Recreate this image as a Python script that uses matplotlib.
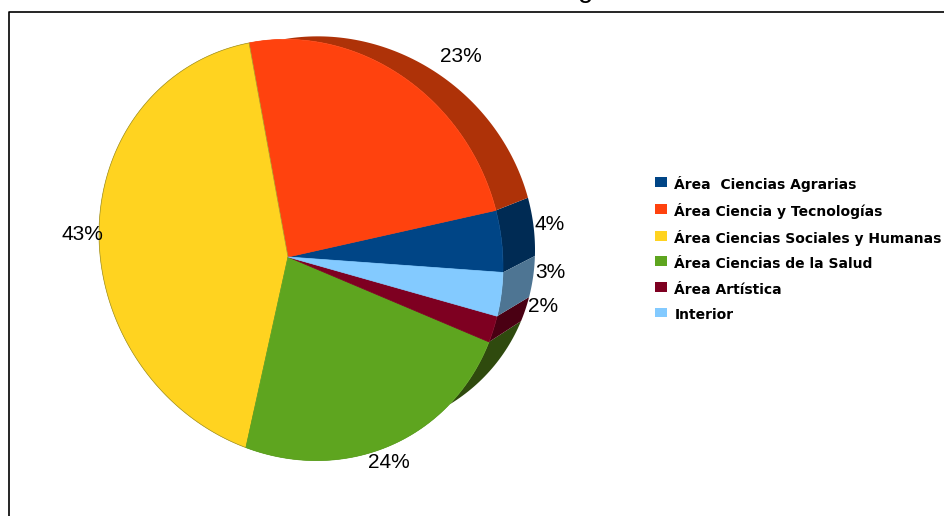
import numpy as np
import matplotlib
matplotlib.use("Agg")
import matplotlib.pyplot as plt
from matplotlib.patches import Patch
from matplotlib.legend_handler import HandlerPatch

categories = ["Área  Ciencias Agrarias", "Área Ciencia y Tecnologías",
              "Área Ciencias Sociales y Humanas", "Área Ciencias de la Salud",
              "Área Artística", "Interior"]
shares = [4.4, 23.4, 43.4, 23.6, 2.0, 3.2]
percent_labels = ["4%", "23%", "43%", "24%", "2%", "3%"]
top_colors = ["#004586", "#ff420e", "#ffd320", "#5ea51f", "#7e0021", "#83caff"]
side_colors = ["#002b54", "#ae3208", "#8f7a10", "#2f4a0e", "#4a0013", "#4e7593"]

# layout, in pixels of the 944x516 figure
label_xy = [(550, 225), (461, 57), (82, 234), (389, 462), (543, 306), (550, 273)]
front = dict(cx=301, cy=250, rx=202, ry=210)
back = dict(cx=334, cy=234, rx=201, ry=197)
apex = (288, 257)
shear = 0.08
warp_r, warp_a = 0.038, np.radians(214)
start = 0.75

fig = plt.figure(figsize=(9.44, 5.16), dpi=100)
ax = fig.add_axes([0, 0, 1, 1])
ax.set_xlim(0, 944)
ax.set_ylim(516, 0)
ax.axis("off")


def warp(theta):
    """Perspective shift of an angle on the pie rim."""
    z = np.exp(1j * theta)
    a = warp_r * np.exp(1j * warp_a)
    return np.angle((z + a) / (1 + np.conj(a) * z))


def rim(e, phi):
    dx = e["rx"] * np.cos(phi)
    return e["cx"] + dx, e["cy"] - e["ry"] * np.sin(phi) + shear * dx


edges = np.radians(start + 360 * np.concatenate([[0], np.cumsum(shares)]) / np.sum(shares))

# side walls first
for i in range(len(shares)):
    th = np.linspace(edges[i], edges[i + 1], 80)
    ph = np.unwrap(warp(th))
    x1, y1 = rim(front, ph)
    x2, y2 = rim(back, ph)
    ax.fill(np.r_[x1, x2[::-1]], np.r_[y1, y2[::-1]], color=side_colors[i], lw=0, zorder=2)

# top face
for i in range(len(shares)):
    th = np.linspace(edges[i], edges[i + 1], 120)
    ph = np.unwrap(warp(th))
    x1, y1 = rim(front, ph)
    edge = "#a8982a" if i == 2 else top_colors[i]
    ax.fill(np.r_[apex[0], x1], np.r_[apex[1], y1], facecolor=top_colors[i],
            edgecolor=edge, lw=0.5, zorder=3)

for (x, y), t in zip(label_xy, percent_labels):
    ax.text(x, y, t, family="Liberation Sans", fontsize=15, ha="center", va="center", color="black", zorder=5)

# frame running off the page, and the foot of the clipped title
ax.plot([9, 9, 944], [516, 12, 12], color="black", lw=1.2, zorder=1, clip_on=False)
ax.text(586, 3, "g", family="Liberation Sans", fontsize=20, ha="center", va="bottom", color="black")

handles = [Patch(facecolor=c, edgecolor="none") for c in top_colors]
leg = ax.legend(handles, categories, loc="upper left", bbox_to_anchor=(649, 170),
                bbox_transform=ax.transData, frameon=False,
                prop=dict(family="DejaVu Sans", size=10, weight="bold"),
                handlelength=0.87, handleheight=1.16, handletextpad=0.55, labelspacing=0.79,
                borderpad=0.4, borderaxespad=0,
                handler_map={Patch: HandlerPatch(ypad=0.30)})
fig.savefig("out.png", dpi=100)
